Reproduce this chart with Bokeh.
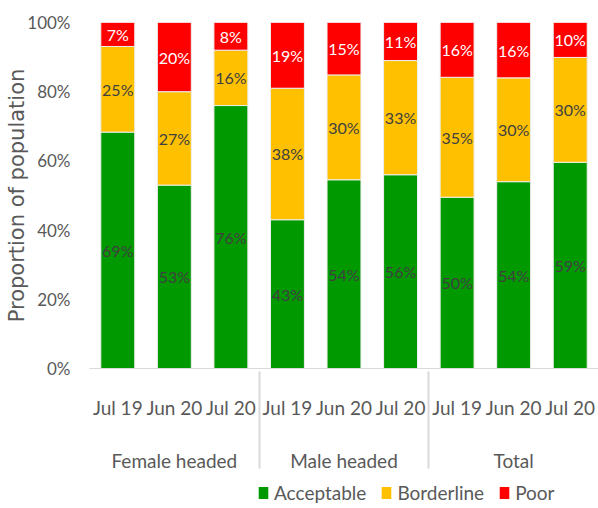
from bokeh.plotting import figure
from bokeh.layouts import column
from bokeh.models import (FactorRange, Range1d, Legend, LegendItem, ColumnDataSource,
                          NumeralTickFormatter, FixedTicker)
from bokeh.embed import file_html
from bokeh.resources import INLINE
from bokeh.core.properties import value

groups = ["Female headed", "Male headed", "Total"]
periods = ["Jul 19", "Jun 20", "Jul 20"]
series = ["Acceptable", "Borderline", "Poor"]
acceptable = [69, 53, 76, 43, 54, 56, 50, 54, 59]
borderline = [25, 27, 16, 38, 30, 33, 35, 30, 30]
poor = [7, 20, 8, 19, 15, 11, 16, 16, 10]
y_ticks = [0, 0.2, 0.4, 0.6, 0.8, 1.0]

colors = ["#009900", "#FFC000", "#FF0000"]
label_colors = ["#404040", "#404040", "#FFFFFF"]
FONT = "Lato"
GRAY = "#595959"

x = [(g, pr) for g in groups for pr in periods]
vals = [acceptable, borderline, poor]
totals = [a + b + c for a, b, c in zip(acceptable, borderline, poor)]
data = {"x": x}
for name, v in zip(series, vals):
    data[name] = [vi / t for vi, t in zip(v, totals)]
src = ColumnDataSource(data)

p = figure(x_range=FactorRange(*x, factor_padding=0, group_padding=0, range_padding=0),
           y_range=Range1d(0, 1), frame_width=509, frame_height=346,
           output_backend="svg", toolbar_location=None,
           min_border_left=89, min_border_top=22, min_border_right=0, min_border_bottom=110)

rs = p.vbar_stack(series, x="x", width=0.6, color=colors, line_color="#eeeeee",
                  line_width=1, source=src)

# data labels
lx, ly, lt, lc = [], [], [], []
for i in range(len(x)):
    base = 0.0
    for k, name in enumerate(series):
        frac = data[name][i]
        lx.append(x[i]); ly.append(base + frac / 2)
        lt.append(f"{vals[k][i]}%"); lc.append(label_colors[k])
        base += frac
p.text(x=lx, y=ly, text=lt, text_color=lc, text_align="center", text_baseline="middle",
       text_font=value(FONT), text_font_size="16px")

p.xgrid.grid_line_color = None
p.ygrid.grid_line_color = None
p.outline_line_color = None

p.yaxis.ticker = FixedTicker(ticks=y_ticks)
p.yaxis.formatter = NumeralTickFormatter(format="0%")
p.yaxis.axis_line_color = None
p.yaxis.major_tick_line_color = None
p.yaxis.minor_tick_line_color = None
p.yaxis.major_tick_out = 0
p.yaxis.minor_tick_out = 0
p.yaxis.major_label_text_font = FONT
p.yaxis.major_label_text_font_size = "17px"
p.yaxis.major_label_text_color = GRAY
p.yaxis.major_label_standoff = 19
p.yaxis.axis_label = "Proportion of population"
p.yaxis.axis_label_text_font = "DejaVu Sans"
p.yaxis.axis_label_text_font_size = "21px"
p.yaxis.axis_label_text_font_style = "normal"
p.yaxis.axis_label_text_color = GRAY
p.yaxis.axis_label_standoff = -5

xa = p.xaxis[0]
xa.axis_line_color = "#d9d9d9"
xa.major_tick_line_color = None
xa.minor_tick_line_color = None
xa.major_tick_out = 0
xa.minor_tick_out = 0
xa.major_label_text_font = FONT
xa.major_label_text_font_size = "19px"
xa.major_label_text_color = GRAY
xa.major_label_standoff = 27
xa.group_text_font = FONT
xa.group_text_font_size = "19px"
xa.group_text_font_style = "normal"
xa.group_text_color = GRAY
xa.separator_line_color = "#d9d9d9"

# legend strip below the chart
lg = figure(width=598, height=30, output_backend="svg", toolbar_location=None,
            x_range=Range1d(0, 1), y_range=Range1d(0, 1),
            min_border_left=0, min_border_right=0, min_border_top=0, min_border_bottom=0)
lg.axis.visible = False
lg.xgrid.grid_line_color = None
lg.ygrid.grid_line_color = None
lg.outline_line_color = None
lrs = [lg.vbar(x=[-5], top=[0], bottom=[0], width=0.1, fill_color=c, line_color=None)
       for c in colors]
legend = Legend(items=[LegendItem(label=s, renderers=[r]) for s, r in zip(series, lrs)],
                orientation="horizontal", location=(168, 4),
                glyph_width=12, glyph_height=15, label_text_font=FONT,
                label_text_font_size="19px", label_text_color=GRAY,
                border_line_color=None, background_fill_alpha=0,
                padding=0, spacing=14, margin=0, label_standoff=5)
lg.add_layout(legend, "center")

layout = column(p, lg, spacing=0)
open("out.html", "w").write(file_html(layout, INLINE))
